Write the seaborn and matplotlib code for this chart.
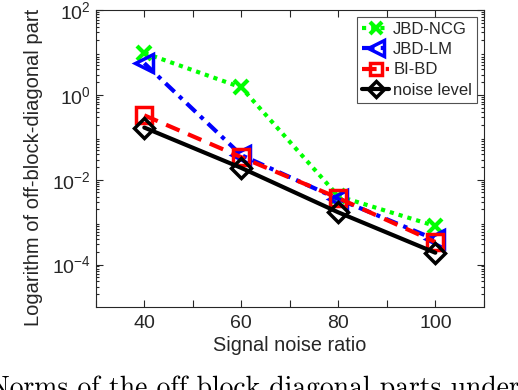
import numpy as np
import pandas as pd
import matplotlib
matplotlib.use("Agg")
import matplotlib.pyplot as plt
import seaborn as sns
from matplotlib.ticker import FixedLocator, LogLocator, NullFormatter

snr = [40, 60, 80, 100]
jbd_ncg = [9.8, 1.5, 4.1e-3, 8.1e-4]
jbd_lm = [5.6, 0.038, 3.5e-3, 3.9e-4]
bi_bd = [0.33, 0.034, 3.7e-3, 3.4e-4]
noise_level = [0.17, 0.019, 1.7e-3, 1.9e-4]
series_names = ["JBD-NCG", "JBD-LM", "BI-BD", "noise level"]
x_ticks = [40, 60, 80, 100]

sns.set_theme(style="ticks")
plt.rcParams["font.family"] = ["Liberation Sans", "DejaVu Sans"]
txt = "#262626"
plt.rcParams.update({"text.color": txt, "axes.labelcolor": txt,
                     "xtick.color": txt, "ytick.color": txt,
                     "axes.edgecolor": txt})

df = pd.DataFrame({
    "snr": snr * 4,
    "value": jbd_ncg + jbd_lm + bi_bd + noise_level,
    "method": sum([[n] * 4 for n in series_names], []),
})

styles = {
    "JBD-NCG": dict(color="#00ff00", linestyle=(0, (1, 1.2)), marker="x", markersize=10, markeredgewidth=3),
    "JBD-LM": dict(color="#0000ff", linestyle=(0, (3, 1.5, 1, 1.5)), marker="<", markersize=13, markeredgewidth=2.5, markerfacecolor="none"),
    "BI-BD": dict(color="#ff0000", linestyle=(0, (3.5, 2.2)), marker="s", markersize=11, markeredgewidth=2.5, markerfacecolor="none"),
    "noise level": dict(color="#000000", linestyle="-", marker="D", markersize=10, markeredgewidth=2.5, markerfacecolor="none"),
}

fig = plt.figure(figsize=(5.18, 3.9), dpi=100)
ax = fig.add_axes([0.185, 0.213, 0.749, 0.761])

for name in series_names:
    sub = df[df["method"] == name]
    st = styles[name]
    sns.lineplot(data=sub, x="snr", y="value", ax=ax, label=name,
                 linewidth=3, markeredgecolor=st["color"], **st)

ax.set_yscale("log")
ax.set_xlim(30, 110)
ax.set_ylim(1e-5, 1e2)
ax.xaxis.set_major_locator(FixedLocator(x_ticks))
ax.xaxis.set_minor_locator(FixedLocator(list(range(30, 111, 10))))
ax.yaxis.set_major_locator(FixedLocator([1e-4, 1e-2, 1e0, 1e2]))
ax.yaxis.set_minor_locator(LogLocator(base=10, subs=np.arange(2, 10), numticks=20))
ax.yaxis.set_minor_formatter(NullFormatter())
ax.tick_params(which="both", direction="in", top=True, right=True, labelsize=14, width=0.8)
ax.tick_params(which="major", length=5)
ax.tick_params(axis="x", which="major", pad=6)
ax.tick_params(axis="x", which="minor", length=5)
ax.tick_params(axis="y", which="minor", length=2.5)
for s in ax.spines.values():
    s.set_linewidth(0.8)

ax.set_xlabel("Signal noise ratio", fontsize=14.3, labelpad=3)
ax.set_ylabel("Logarithm of off-block-diagonal part", fontsize=14.5)
ax.yaxis.set_label_coords(-0.137, 0.47)

leg = ax.legend(loc="upper right", fontsize=12, frameon=True, fancybox=False,
                handlelength=1.6, handletextpad=0.25, borderpad=0.3,
                labelspacing=0.32, borderaxespad=0.4, markerscale=0.85)
leg.get_frame().set_edgecolor(txt)
leg.get_frame().set_linewidth(0.8)

fig.text(-0.022, -0.016, "Norms of the off block diagonal parts under",
         family=["cmr10", "DejaVu Serif"], fontsize=19.9, color="black",
         ha="left", va="baseline")

fig.savefig("out.png", dpi=100)
